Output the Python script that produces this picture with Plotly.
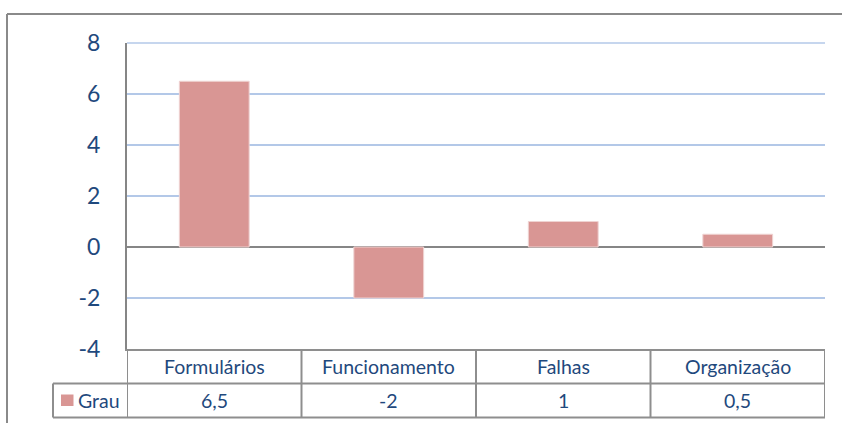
import plotly.graph_objects as go

categories = ["Formulários", "Funcionamento", "Falhas", "Organização"]
values = [6.5, -2, 1, 0.5]
series_name = "Grau"
y_ticks = [-4, -2, 0, 2, 4, 6, 8]

BAR = "#D99694"
TXT = "#1F497D"
GRID = "#B3C8E8"
AX = "#868686"
FONT = "Lato"

def fmt(v):
    s = ("%g" % v)
    return s.replace(".", ",")

fig = go.Figure()
fig.add_trace(go.Bar(
    x=categories, y=values, width=0.4, name=series_name,
    marker=dict(color=BAR, line=dict(color="#EFD3D2", width=1)),
    showlegend=False, hoverinfo="x+y",
))

W, H = 842, 423
ml, mr, mt, mb = 127, 17, 43, 74
pw, ph = W - ml - mr, H - mt - mb
row1 = (349 - 383.5) / ph
row2 = (349 - 417.5) / ph
left = (53 - ml) / pw

shapes = []
line = dict(color="#8E8E8E", width=2)
# top gridline at the maximum of the range (plotly omits the edge gridline)
shapes.append(dict(type="line", xref="paper", yref="paper", x0=0, x1=1, y0=1, y1=1,
                   line=dict(color=GRID, width=1.5), layer="below"))
shapes.append(dict(type="line", xref="paper", yref="paper", x0=left, x1=1, y0=row1, y1=row1, line=line))
shapes.append(dict(type="line", xref="paper", yref="paper", x0=left, x1=1, y0=row2, y1=row2, line=line))
n = len(categories)
for i in range(n + 1):
    shapes.append(dict(type="line", xref="x", yref="paper", x0=i - 0.5, x1=i - 0.5, y0=0, y1=row2, line=line))
shapes.append(dict(type="line", xref="paper", yref="paper", x0=left, x1=left, y0=row1, y1=row2, line=line))
shapes.append(dict(type="rect", xref="paper", yref="paper",
                   x0=(61 - ml) / pw, x1=(73.5 - ml) / pw,
                   y0=(349 - 394.5) / ph, y1=(349 - 406) / ph,
                   fillcolor=BAR, line=dict(width=0)))
shapes.append(dict(type="line", xref="paper", yref="paper",
                   x0=(7 - ml) / pw, x1=(W + 5 - ml) / pw,
                   y0=(349 - 14) / ph, y1=(349 - 14) / ph,
                   line=dict(color="#8A8A8A", width=2)))
shapes.append(dict(type="line", xref="paper", yref="paper",
                   x0=(7 - ml) / pw, x1=(7 - ml) / pw,
                   y0=(349 - 14) / ph, y1=(349 - H - 5) / ph,
                   line=dict(color="#8A8A8A", width=2)))

annotations = []
ymid1 = (row1) / 2
ymid2 = (row1 + row2) / 2
for i, (c, v) in enumerate(zip(categories, values)):
    annotations.append(dict(x=i, xref="x", y=ymid1, yref="paper", text=c, showarrow=False,
                            font=dict(family=FONT, size=19.5, color=TXT), xanchor="center", yanchor="middle"))
    annotations.append(dict(x=i, xref="x", y=ymid2, yref="paper", text=fmt(v), showarrow=False,
                            font=dict(family=FONT, size=19.5, color=TXT), xanchor="center", yanchor="middle"))
annotations.append(dict(x=(76 - ml) / pw, xref="paper", y=ymid2, yref="paper", text=series_name,
                        showarrow=False, font=dict(family=FONT, size=19.5, color=TXT),
                        xanchor="left", yanchor="middle"))

fig.update_layout(
    width=W, height=H,
    margin=dict(l=ml, r=mr, t=mt, b=mb, pad=0),
    paper_bgcolor="white", plot_bgcolor="white",
    shapes=shapes, annotations=annotations,
    xaxis=dict(range=[-0.5, n - 0.5], showticklabels=False, showgrid=False,
               showline=True, linecolor="#8E8E8E", linewidth=2, zeroline=False, fixedrange=True),
    yaxis=dict(range=[-4, 8], tickvals=y_ticks, ticktext=[str(t) for t in y_ticks],
               showgrid=True, gridcolor=GRID, gridwidth=1.5,
               zeroline=True, zerolinecolor=AX, zerolinewidth=2,
               showline=True, linecolor=AX, linewidth=2,
               ticks="", ticklabelstandoff=20,
               tickfont=dict(family=FONT, size=23, color=TXT)),
    bargap=0.6,
)

fig.write_html("out.html", config={"displayModeBar": False},
               post_script="document.body.style.margin='0';document.body.style.overflow='hidden';")
